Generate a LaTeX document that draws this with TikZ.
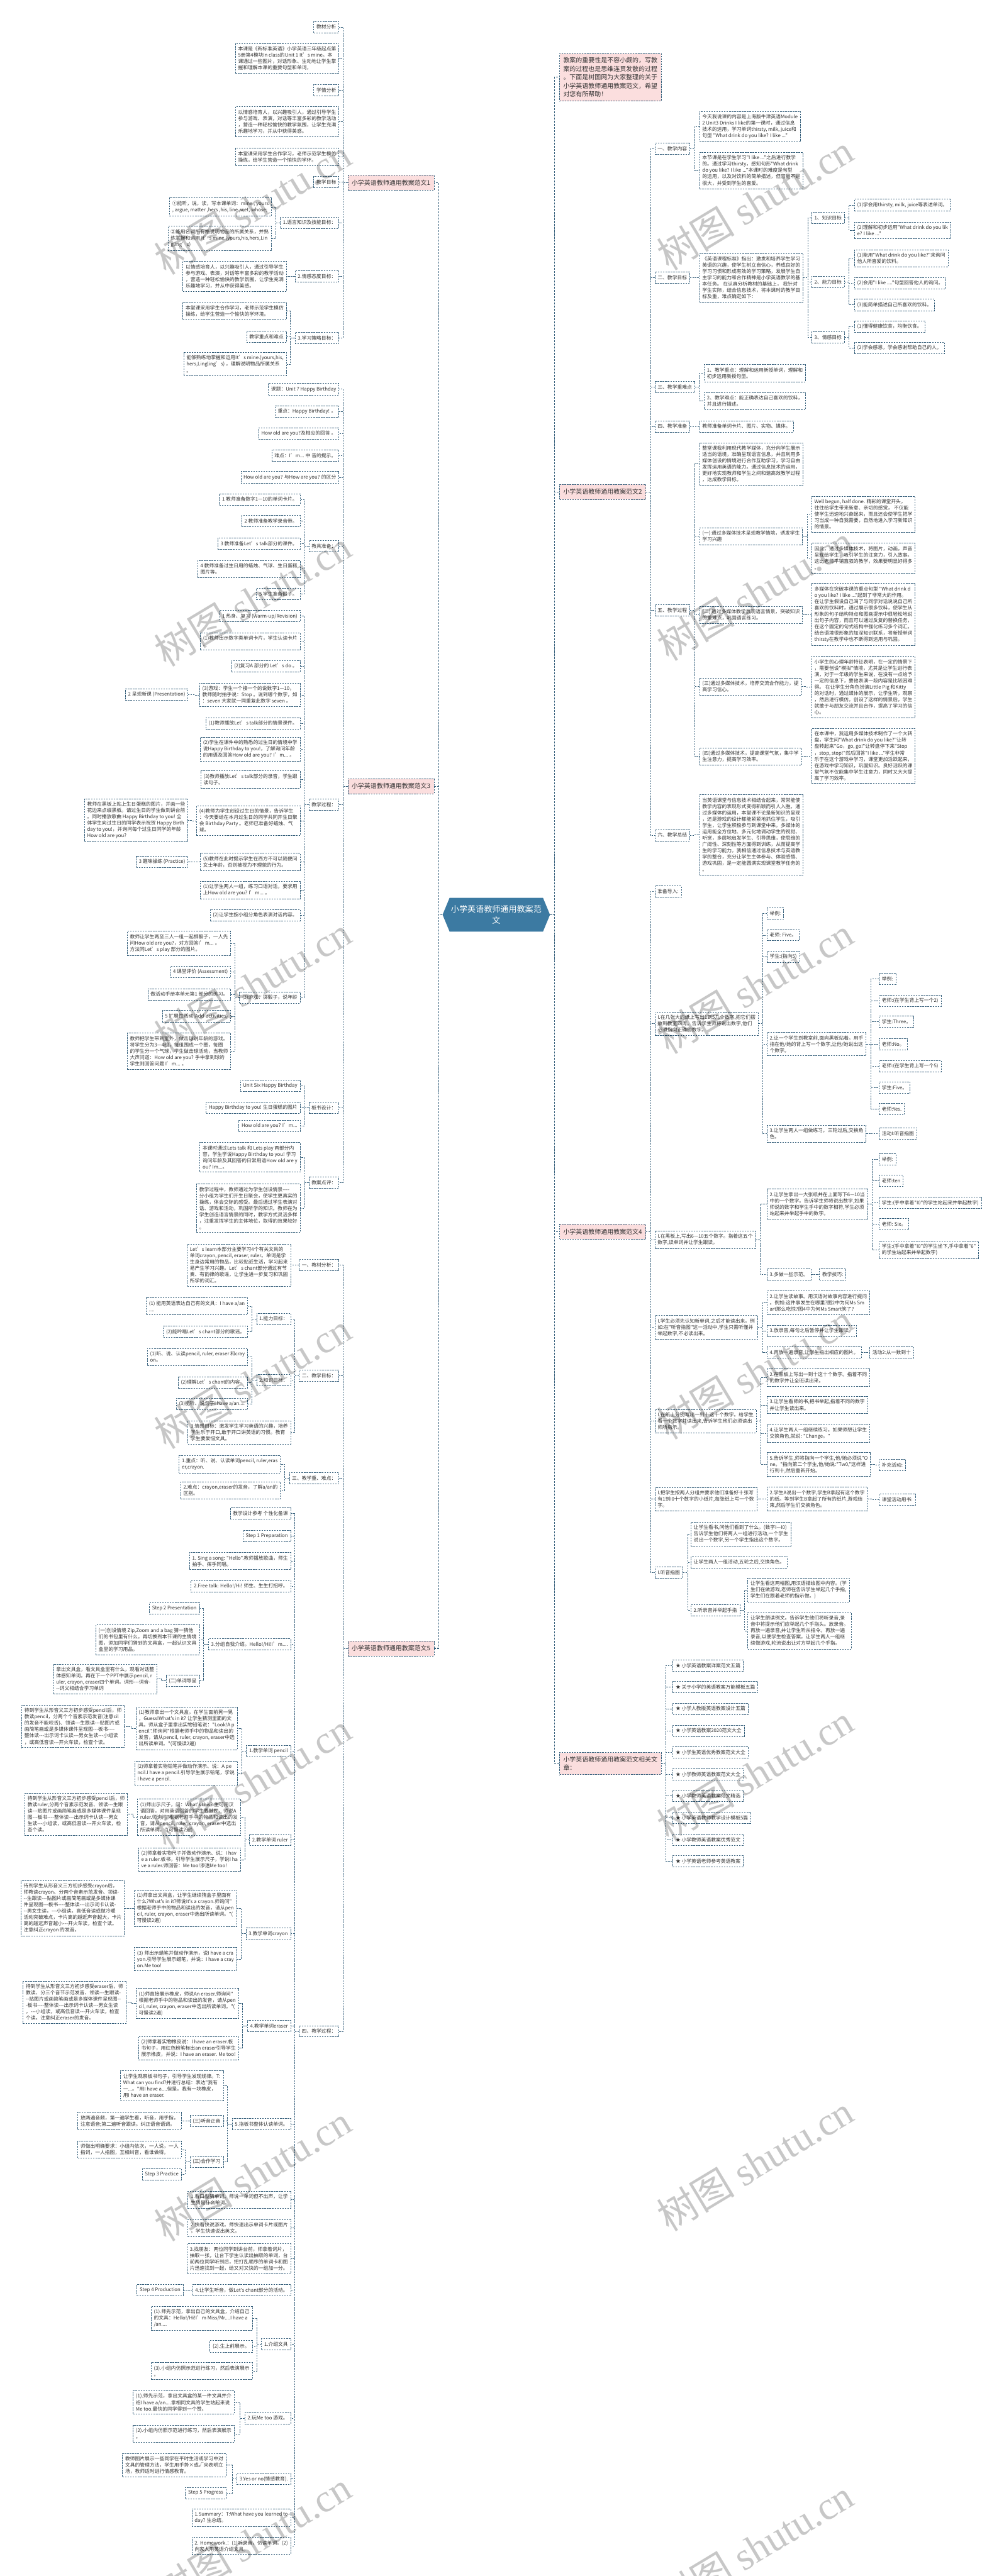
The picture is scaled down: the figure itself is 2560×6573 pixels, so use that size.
\documentclass[tikz,border=0pt]{standalone}
\usepackage{fontspec}
\newfontfamily\cjk{Noto Sans CJK SC}
\newfontfamily\wmlat{Liberation Serif}
\usetikzlibrary{shapes.symbols}
\definecolor{bordc}{RGB}{52,94,122}
\definecolor{txtc}{RGB}{51,51,51}
\definecolor{pinkc}{RGB}{251,222,222}
\definecolor{rootc}{RGB}{60,122,162}
\newcommand\BoxL[4]{\node[box,anchor=east] (#1) at (#2,#3) {#4};}
\newcommand\BoxR[4]{\node[box,anchor=west] (#1) at (#2,#3) {#4};}
\newcommand\ConL[2]{\draw[conn] (#1.west) -- ++(-11.5,0) |- (#2.east);}
\newcommand\ConR[2]{\draw[conn] (#1.east) -- ++(11.5,0) |- (#2.west);}
\begin{document}
\begin{tikzpicture}[x=1pt,y=-1pt,
 box/.style={draw=bordc,dash pattern=on 4pt off 2.5pt,line width=1.1pt,fill=white,inner xsep=7pt,inner ysep=8pt,minimum height=28.8pt,align=left,text=txtc,font=\cjk\fontsize{12.5}{16.1}\selectfont},
 lone/.style={box,fill=pinkc,inner xsep=9.5pt,inner ysep=10pt,minimum height=38pt,font=\cjk\fontsize{16}{21.6}\selectfont},
 conn/.style={draw=bordc,dash pattern=on 4pt off 2.5pt,line width=1.1pt},
 trunk/.style={draw=bordc,dash pattern=on 5pt off 3pt,line width=1.8pt},
 wm/.style={rotate=31,text=black,text opacity=0.22,font=\cjk\fontsize{100}{100}\selectfont}]
\fill[white] (0,0) rectangle (2560,6573);
\path[use as bounding box] (0,0) rectangle (2560,6573);
% root
\node[signal,signal to=east and west,signal pointer angle=135,fill=rootc,draw=none,text=white,minimum width=274pt,minimum height=86pt,inner xsep=2pt,align=center,font=\cjk\fontsize{21}{28}\selectfont] (root) at (1266,2334) {小学英语教师通用教案范\\文};
% level 1
\node[lone,anchor=east] (A) at (1108,466) {小学英语教师通用教案范文1};
\node[lone,anchor=east] (B) at (1108,2006) {小学英语教师通用教案范文3};
\node[lone,anchor=east] (C) at (1108,4206) {小学英语教师通用教案范文5};
\node[lone,anchor=west] (R0) at (1427,197) {教案的重要性是不容小觑的，写教\\案的过程也是思维连贯发散的过程\\。下面是树图网为大家整理的关于\\小学英语教师通用教案范文，希望\\对您有所帮助！};
\node[lone,anchor=west] (D) at (1427,1255) {小学英语教师通用教案范文2};
\node[lone,anchor=west] (E) at (1427,3143) {小学英语教师通用教案范文4};
\node[lone,anchor=west] (F) at (1427,4500) {小学英语教师通用教案范文相关文\\章：};
\foreach \nn in {A,B,C} {\draw[trunk] (root.west) -- ++(-10,0) |- (\nn.east);}
\foreach \nn in {R0,D,E,F} {\draw[trunk] (root.east) -- ++(11,0) |- (\nn.west);}
% ===== A : 范文1
\BoxL{a1}{865}{69}{教材分析}
\BoxL{a2}{865}{149}{本课是《新标准英语》小学英语三年级起点第\\5册第4模块In class的Unit 1 It’s mine。本\\课通过一些图片，对话形象、生动地让学生掌\\握和理解本课的重要句型和单词，}
\BoxL{a3}{865}{230}{学情分析}
\BoxL{a4}{865}{310}{以情感培育人，以兴趣吸引人，通过引导学生\\参与游戏、表演，对话等丰富多彩的教学活动\\，营造一种轻松愉快的教学氛围，让学生充满\\乐趣地学习，并从中获得美感。}
\BoxL{a5}{865}{400}{本堂课采用学生合作学习，老师示范学生模仿\\操练，给学生营造一个愉快的学环。}
\BoxL{a6}{865}{465}{教学目标}
\BoxL{a7}{865}{568}{1.语言知识及技能目标：}
\BoxL{a8}{865}{705}{2.情感态度目标：}
\BoxL{a9}{865}{862}{3.学习策略目标：}
\BoxL{a7a}{693}{528}{①能听，说，读，写本课单词：mine , yours\\, argue, matter ,hers ,his, line ,wet, whose;}
\BoxL{a7b}{693}{608}{②能用名词所有格说明物品的所属关系，并熟\\练掌握和运用 It’s mine.(yours,his,hers,Lin\\gling’s)}
\BoxL{a8a}{731}{705}{以情感培育人，以兴趣吸引人，通过引导学生\\参与游戏、表演，对话等丰富多彩的教学活动\\，营造一种轻松愉快的教学氛围，让学生充满\\乐趣地学习，并从中获得美感。}
\BoxL{a9a}{731}{794}{本堂课采用学生合作学习，老师示范学生模仿\\操练，给学生营造一个愉快的学环境。}
\BoxL{a9b}{731}{859}{教学重点和难点}
\BoxL{a9c}{731}{929}{能够熟练地掌握和运用It’s mine.(yours,his,\\hers,Lingling’s) ，理解说明物品所属关系\\。}
\foreach \cc in {a1,a2,a3,a4,a5,a6,a7,a8,a9} {\ConL{A}{\cc}}
\ConL{a7}{a7a} \ConL{a7}{a7b} \ConL{a8}{a8a}
\ConL{a9}{a9a} \ConL{a9}{a9b} \ConL{a9}{a9c}
% ===== B : 范文3
\BoxL{b1}{865}{993}{课题：Unit 7 Happy Birthday}
\BoxL{b2}{865}{1050}{重点：Happy Birthday! 。}
\BoxL{b3}{865}{1106}{How old are you?及相应的回答 。}
\BoxL{b4}{865}{1162}{难点：I’m... 中 音的提示。}
\BoxL{b5}{865}{1218}{How old are you? 与How are you? 的区分}
\BoxL{b6}{865}{1394}{教具准备：}
\BoxL{b7}{865}{2053}{教学过程：}
\BoxL{b8}{865}{2826}{板书设计：}
\BoxL{b9}{865}{3017}{教案点评：}
\foreach \cc in {b1,b2,b3,b4,b5,b6,b7,b8,b9} {\ConL{B}{\cc}}
\BoxL{b6a}{766}{1274}{1 教师准备数字1—10的单词卡片。}
\BoxL{b6b}{766}{1330}{2 教师准备教学录音带。}
\BoxL{b6c}{766}{1387}{3 教师准备Let’s talk部分的课件。}
\BoxL{b6d}{766}{1452}{4 教师准备过生日用的蜡烛、气球、生日蛋糕\\图片等。}
\BoxL{b6e}{766}{1515}{5 学生准备骰子。}
\foreach \cc in {b6a,b6b,b6c,b6d,b6e} {\ConL{b6}{\cc}}
\BoxL{b7a}{766}{1572}{1 热身、复习 (Warm-up/Revision)}
\BoxL{b7b}{766}{1636}{(1)教师出示数字类单词卡片，学生认读卡片\\。}
\BoxL{b7c}{766}{1700}{(2)复习A 部分的 Let’s do 。}
\BoxL{b7d}{766}{1773}{(3)游戏：学生一个接一个的说数字1—10，\\教师随时拍手说：Stop 。说到哪个数字，如\\：seven 大家就一同重复此数字 seven 。}
\BoxL{b7e}{766}{1846}{(1)教师播放Let’s talk部分的情景课件。}
\BoxL{b7f}{766}{1912}{(2)学生在课件中的熟悉的过生日的情境中学\\说Happy Birthday to you!，了解询问年龄\\的用语及回答How old are you? I’m... 。}
\BoxL{b7g}{766}{1989}{(3)教师播放Let’s talk部分的录音，学生跟\\读句子。}
\BoxL{b7h}{766}{2094}{(4)教师为学生创设过生日的情景，告诉学生\\：今天要给在本月过生日的同学共同开生日聚\\会 Birthday Party 。老师已准备好蜡烛、气\\球。}
\BoxL{b7i}{766}{2199}{(5)教师在此时提示学生在西方不可以随便问\\女士年龄，否则被视为不理貌的行为。}
\BoxL{b7j}{766}{2271}{(1)让学生两人一组，练习口语对话，要求用\\上How old are you? I’m... 。}
\BoxL{b7k}{766}{2335}{(2)让学生按小组分角色表演对话内容。}
\BoxL{b7l}{766}{2545}{(3)游戏：掷骰子，说年龄}
\foreach \cc in {b7a,b7b,b7c,b7d,b7e,b7f,b7g,b7h,b7i,b7j,b7k,b7l} {\ConL{b7}{\cc}}
\BoxL{b7d1}{480}{1772}{2 呈现新课 (Presentation)}
\BoxL{b7h1}{480}{2093}{教师在黑板上贴上生日蛋糕的图片，并画一些\\花边来点缀黑板。请过生日的学生做到讲台前\\。同时播放歌曲 Happy Birthday to you! 全\\体学生向过生日的同学表示祝贺 Happy Birth\\day to you!，并询问每个过生日同学的年龄\\ How old are you?}
\BoxL{b7i1}{480}{2199}{3 趣味操练 (Practice)}
\ConL{b7d}{b7d1} \ConL{b7h}{b7h1} \ConL{b7i}{b7i1}
\BoxL{b7l1}{589}{2407}{教师让学生两至三人一组一起掷骰子，一人先\\问How old are you?，对方回答I’m... 。\\方法同Let’s play 部分的图片。}
\BoxL{b7l2}{589}{2480}{4 课堂评价 (Assessment)}
\BoxL{b7l3}{589}{2537}{做活动手册本单元第1 部分的练习。}
\BoxL{b7l4}{589}{2593}{5 扩展性活动(Add-activities)}
\BoxL{b7l5}{589}{2682}{教师把学生带到室外，做击球说年龄的游戏。\\将学生分为3—4组，每组围成一个圈，每圈\\的学生分一个气球，学生做击球活动，当教师\\大声问道：How old are you? 手中拿到球的\\学生则回答问题 I’m... 。}
\foreach \cc in {b7l1,b7l2,b7l3,b7l4,b7l5} {\ConL{b7l}{\cc}}
\BoxL{b8a}{766}{2770}{Unit Six Happy Birthday}
\BoxL{b8b}{766}{2826}{Happy Birthday to you! 生日蛋糕的图片}
\BoxL{b8c}{766}{2873}{How old are you? I’m...}
\foreach \cc in {b8a,b8b,b8c} {\ConL{b8}{\cc}}
\BoxL{b9a}{766}{2953}{本课时通过Lets talk 和 Lets play 两部分内\\容，学生学说Happy Birthday to you! 学习\\询问年龄及其回答的日常用语How old are y\\ou? Im...。}
\BoxL{b9b}{766}{3083}{教学过程中，教师通过为学生创设情景----\\分小组为学生们开生日聚会，使学生更真实的\\操练，体会交际的感受。最后通过学生表演对\\话、游戏和活动，巩固所学的知识。教师在为\\学生创造语言情景的同时，教学方式灵活多样\\，注重发挥学生的主体地位，取得的效果较好\\。}
\ConL{b9}{b9a} \ConL{b9}{b9b}
% ===== C : 范文5
\BoxL{c1}{865}{3228}{一、教材分析：}
\BoxL{c2}{865}{3510}{二、教学目标：}
\BoxL{c3}{865}{3772}{三、教学重、难点：}
\BoxL{c4}{865}{5183}{四、教学过程：}
\foreach \cc in {c1,c2,c3,c4} {\ConL{C}{\cc}}
\BoxL{c1a}{742}{3228}{Let’s learn本部分主要学习4个有关文具的\\单词crayon, pencil, eraser, ruler。单词是学\\生身边常用的物品，比较贴近生活，学习起来\\易产生学习兴趣。Let’s chant部分通过有节\\奏、有韵律的歌谣，让学生进一步复习和巩固\\所学的词汇。}
\ConL{c1}{c1a}
\BoxL{c2a}{742}{3365}{1.能力目标：}
\BoxL{c2b}{742}{3522}{2.知识目标：}
\BoxL{c2c}{742}{3655}{3.情感目标：激发学生学习英语的兴趣，培养\\学生乐于开口,敢于开口讲英语的习惯。教育\\学生要爱惜文具。}
\foreach \cc in {c2a,c2b,c2c} {\ConL{c2}{\cc}}
\BoxL{c2a1}{632}{3333}{(1) 能用英语表达自己有的文具：I have a/an\\....}
\BoxL{c2a2}{632}{3398}{(2)能吟唱Let’s chant部分的歌谣。}
\ConL{c2a}{c2a1} \ConL{c2a}{c2a2}
\BoxL{c2b1}{632}{3462}{(1)听、说、认读pencil, ruler, eraser 和cray\\on。}
\BoxL{c2b2}{632}{3527}{(2)理解Let’s chant的内容。}
\BoxL{c2b3}{632}{3582}{(3)能听、说句子I have a/an....}
\foreach \cc in {c2b1,c2b2,c2b3} {\ConL{c2b}{\cc}}
\BoxL{c3a}{716}{3736}{1.重点：听、说、认读单词pencil, ruler,eras\\er,crayon.}
\BoxL{c3b}{716}{3803}{2.难点：crayon,eraser的发音，了解a/an的\\区别。}
\ConL{c3}{c3a} \ConL{c3}{c3b}
\BoxL{c4a}{742}{3862}{教学设计参考 个性化备课}
\BoxL{c4b}{742}{3919}{Step 1 Preparation}
\BoxL{c4c}{742}{3983}{1. Sing a song: "Hello".教师播放歌曲，师生\\拍手、挥手同唱。}
\BoxL{c4d}{742}{4047}{2.Free talk: Hello!/Hi! 师生、生生打招呼。}
\BoxL{c4e}{742}{4196}{3.分组自我介绍。Hello!/Hi!I’m....}
\BoxL{c4f}{742}{4468}{1.教学单词 pencil}
\BoxL{c4g}{742}{4694}{2.教学单词 ruler}
\BoxL{c4h}{742}{4934}{3.教学单词crayon}
\BoxL{c4i}{742}{5169}{4.教学单词eraser}
\BoxL{c4j}{742}{5420}{5.指板书整体认读单词。}
\BoxL{c4k}{742}{5613}{1.看口型猜单词。师说一单词但不出声，让学\\生猜是什么单词。}
\BoxL{c4l}{742}{5685}{2.快看快说游戏。师快速出示单词卡片或图片\\，学生快速说出英文。}
\BoxL{c4m}{742}{5763}{3.找朋友：两位同学到讲台前，师拿着词片，\\抽取一张，让台下学生认读出抽取的单词，台\\前两位同学听到后，把打乱顺序的单词卡和图\\片迅速找到一起，给又对又快的一组加一分。}
\BoxL{c4n}{742}{5843}{4.让学生听音，做Let's chant部分的活动。}
\BoxL{c4o}{742}{5982}{1.介绍文具}
\BoxL{c4p}{742}{6170}{2.玩Me too 游戏。}
\BoxL{c4q}{742}{6325}{3.Yes or no(情感教育).}
\BoxL{c4r}{742}{6424}{1.Summary：T:What have you learned to\\day? 生总结。}
\BoxL{c4s}{742}{6496}{2. Homework.：(1)听录音，仿读单词。(2)\\向家人用英语介绍文具。}
\foreach \cc in {c4a,c4b,c4c,c4d,c4e,c4f,c4g,c4h,c4i,c4j,c4k,c4l,c4m,c4n,c4o,c4p,c4q,c4r,c4s} {\ConL{c4}{\cc}}
\BoxL{c4e1}{509}{4104}{Step 2 Presentation}
\BoxL{c4e2}{509}{4184}{(一)创设情境 Zip,Zoom and a bag 猜一猜他\\们的书包里有什么。再切换到本节课的主情境\\图，添加同学们猜到的文具盒，一起认识文具\\盒里的学习用品。}
\BoxL{c4e3}{509}{4289}{(二)单词导呈}
\foreach \cc in {c4e1,c4e2,c4e3} {\ConL{c4e}{\cc}}
\BoxL{c4e3a}{401}{4284}{拿出文具盒，看文具盒里有什么，观看对话整\\体感知单词。再在下一个PPT中展示pencil, r\\uler, crayon, eraser四个单词。词形---词音-\\--词义相结合学习单词}
\ConL{c4e3}{c4e3a}
\BoxL{c4f1}{606}{4410}{(1)教师拿出一个文具盒，在学生面前晃一晃\\，Guess!What's in it? 让学生猜测里面的文\\具。师从盒子里拿出实物铅笔说："Look!A p\\encil".师询问"根据老师手中的物品和读出的\\发音，请从pencil, ruler, crayon, eraser中选\\出所读单词。"(可慢读2遍)}
\BoxL{c4f2}{606}{4524}{(2)师拿着实物铅笔并做动作演示、说：A pe\\ncil.I have a pencil.引导学生展示铅笔，学说\\I have a pencil.}
\ConL{c4f}{c4f1} \ConL{c4f}{c4f2}
\BoxL{c4f1a}{318}{4405}{待到学生从形音义三方初步感受pencil后，师\\教读pencil，分两个个音素示范发音(注意cil\\的发音不能咬舌)、领读---生跟读---贴图片或\\画简笔画或是多媒体课件呈现图---板书----\\整体读---出示词卡认读---男女生读---小组读\\，或高低音读---开火车读，检查个读。}
\ConL{c4f1}{c4f1a}
\BoxL{c4g1}{614}{4637}{(1)师出示尺子，问：What's this? 生可用汉\\语回答，对用英语回答的学生要鼓励。师说A\\ruler.师询问"根据老师手中的物品和读出的发\\音，请从pencil, ruler, crayon, eraser中选出\\所读单词。"(可慢读2遍)}
\BoxL{c4g2}{614}{4745}{(2)师拿着实物尺子并做动作演示、说：I hav\\e a ruler.板书，引导学生展示尺子，学说I ha\\ve a ruler.师回答：Me too!渗透Me too!}
\ConL{c4g}{c4g1} \ConL{c4g}{c4g2}
\BoxL{c4g1a}{326}{4629}{待到学生从形音义三方初步感受pencil后，师\\教读ruler,分两个音素示范发音、领读---生跟\\读---贴图片或画简笔画或是多媒体课件呈现\\图---板书----整体读---出示词卡认读---男女\\生读---小组读，或高低音读---开火车读，检\\查个读。}
\ConL{c4g1}{c4g1a}
\BoxL{c4h1}{604}{4869}{(1)师拿出文具盒，让学生继续猜盒子里面有\\什么?What's in it?师说It's a crayon.师询问"\\根据老师手中的物品和读出的发音，请从pen\\cil, ruler, crayon, eraser中选出所读单词。"(\\可慢读2遍)}
\BoxL{c4h2}{604}{4999}{(3) 师出示蜡笔并做动作演示，说I have a cra\\yon.引导学生展示蜡笔，并说：I have a cray\\on.Me too!}
\ConL{c4h}{c4h1} \ConL{c4h}{c4h2}
\BoxL{c4h1a}{318}{4869}{待到学生从形音义三方初步感受crayon后，\\师教读crayon、分两个音素示范发音、领读-\\--生跟读---贴图片或画简笔画或是多媒体课\\件呈现图---板书----整体读---出示词卡认读-\\--男女生读，---小组读。高低音读或做冷暖\\活动突破难点，卡片离的越近声音越大，卡片\\离的越远声音越小---开火车读，检查个读。\\注意纠正crayon 的发音。}
\ConL{c4h1}{c4h1a}
\BoxL{c4i1}{609}{5112}{(1)师直接展示橡皮，师说An eraser.师询问"\\根据老师手中的物品和读出的发音，请从pen\\cil, ruler, crayon, eraser中选出所读单词。"(\\可慢读2遍)}
\BoxL{c4i2}{609}{5226}{(2)师拿着实物橡皮说：I have an eraser.板\\书句子，用红色粉笔标出an eraser引导学生\\展示橡皮，并说：I have an eraser. Me too!}
\ConL{c4i}{c4i1} \ConL{c4i}{c4i2}
\BoxL{c4i1a}{322}{5109}{待到学生从形音义三方初步感受eraser后，师\\教读、分三个音节示范发音、领读---生跟读-\\--贴图片或画简笔画或是多媒体课件呈现图--\\-板书----整体读---出示词卡认读---男女生读\\，---小组读，或高低音读---开火车读，检查\\个读。注意纠正eraser的发音。}
\ConL{c4i1}{c4i1a}
\BoxL{c4j1}{570}{5322}{让学生观察板书句子，引导学生发现规律。T:\\What can you find?并进行总结：表达"我有\\一...。"用I have a....但是，我有一块橡皮，\\用I have an eraser.}
\BoxL{c4j2}{570}{5412}{(三)听音正音}
\BoxL{c4j3}{570}{5516}{(三)合作学习}
\foreach \cc in {c4j1,c4j2,c4j3} {\ConL{c4j}{\cc}}
\BoxL{c4j2a}{463}{5412}{放两遍音频，第一遍学生看，听音，用手指，\\注意语音;第二遍听音跟读。纠正语音语调。}
\ConL{c4j2}{c4j2a}
\BoxL{c4j3a}{463}{5485}{师做出明确要求：小组内依次，一人说，一人\\指词，一人指图，互相纠音，看谁做得。}
\BoxL{c4j3b}{463}{5548}{Step 3 Practice}
\ConL{c4j3}{c4j3a} \ConL{c4j3}{c4j3b}
\BoxL{c4n1}{468}{5843}{Step 4 Production}
\ConL{c4n}{c4n1}
\BoxL{c4o1}{644}{5915}{(1).师先示范，拿出自己的文具盒，介绍自己\\的文具：Hello!/Hi!I’m Miss/Mr....I have a\\/an....}
\BoxL{c4o2}{644}{5987}{(2).生上前展示。}
\BoxL{c4o3}{644}{6050}{(3).小组内仿照示范进行练习，然后表演展示\\。}
\foreach \cc in {c4o1,c4o2,c4o3} {\ConL{c4o}{\cc}}
\BoxL{c4p1}{598}{6130}{(1).师先示范，拿出文具盒的某一件文具并介\\绍I have a/an....拿相同文具的学生站起来说\\Me too.最快的同学得到一个赞。}
\BoxL{c4p2}{598}{6210}{(2).小组内仿照示范进行练习，然后表演展示\\。}
\ConL{c4p}{c4p1} \ConL{c4p}{c4p2}
\BoxL{c4q1}{577}{6290}{教师图片展示一些同学在平时生活或学习中对\\文具的管理方法，学生用手势×或√来表明立\\场，教师适时进行情感教育。}
\BoxL{c4q2}{577}{6361}{Step 5 Progress}
\ConL{c4q}{c4q1} \ConL{c4q}{c4q2}
% ===== D : 范文2
\BoxR{d1}{1670}{380}{一、教学内容}
\BoxR{d2}{1670}{708}{二、教学目标}
\BoxR{d3}{1670}{988}{三、教学重难点}
\BoxR{d4}{1670}{1088}{四、教学准备}
\BoxR{d5}{1670}{1557}{五、教学过程}
\BoxR{d6}{1670}{2131}{六、教学总结}
\foreach \cc in {d1,d2,d3,d4,d5,d6} {\ConR{D}{\cc}}
\BoxR{d1a}{1784}{323}{今天我说课的内容是上海版牛津英语Module\\2 Unit3 Drinks I like的第一课时，通过信息\\技术的运用，学习单词thirsty, milk, juice和\\句型 "What drink do you like? I like ..."}
\BoxR{d1b}{1784}{435}{本节课是在学生学习"I like ..."之后进行教学\\的。通过学习thirsty，感知句形"What drink\\ do you like? I like ..."本课时的难度是句型\\的运用，以及对饮料的简单描述，但容量不是\\很大，并受到学生的喜爱。}
\ConR{d1}{d1a} \ConR{d1}{d1b}
\BoxR{d2a}{1784}{709}{《英语课程标准》指出：激发和培养学生学习\\英语的兴趣，使学生树立自信心，养成良好的\\学习习惯和形成有效的学习策略，发展学生自\\主学习的能力和合作精神是小学英语教学的基\\本任务。 在认真分析教材的基础上， 我针对\\学生实际，结合信息技术，将本课时的教学目\\标及重，难点确定如下：}
\ConR{d2}{d2a}
\BoxR{d2a1}{2070}{556}{1、知识目标}
\BoxR{d2a2}{2070}{719}{2、能力目标}
\BoxR{d2a3}{2070}{861}{3、情感目标}
\foreach \cc in {d2a1,d2a2,d2a3} {\ConR{d2a}{\cc}}
\BoxR{d2a1a}{2179}{523}{(1)学会用thirsty, milk, juice等表述单词。}
\BoxR{d2a1b}{2179}{588}{(2)理解和初步运用"What drink do you lik\\e? I like ..."}
\ConR{d2a1}{d2a1a} \ConR{d2a1}{d2a1b}
\BoxR{d2a2a}{2179}{659}{(1)能用"What drink do you like?"来询问\\他人所喜爱的饮料。}
\BoxR{d2a2b}{2179}{722}{(2)会用"I like ...."句型回答他人的询问。}
\BoxR{d2a2c}{2179}{778}{(3)能简单描述自己所喜欢的饮料。}
\foreach \cc in {d2a2a,d2a2b,d2a2c} {\ConR{d2a2}{\cc}}
\BoxR{d2a3a}{2179}{833}{(1)懂得健康饮食，均衡饮食。}
\BoxR{d2a3b}{2179}{888}{(2)学会感恩，学会感谢帮助自己的人。}
\ConR{d2a3}{d2a3a} \ConR{d2a3}{d2a3b}
\BoxR{d3a}{1796}{952}{1、教学重点：理解和运用新授单词，理解和\\初步运用新授句型。}
\BoxR{d3b}{1796}{1023}{2、教学难点：能正确表达自己喜欢的饮料，\\并且进行描述。}
\ConR{d3}{d3a} \ConR{d3}{d3b}
\BoxR{d4a}{1784}{1088}{教师准备单词卡片、图片、实物、媒体。}
\ConR{d4}{d4a}
\BoxR{d5a}{1784}{1184}{整堂课我利用现代教学媒体，充分向学生展示\\适当的语境，准确呈现语言信息，并且利用多\\媒体创设的情境进行合作互助学习，学习自由\\发挥运用英语的能力。通过信息技术的运用，\\更好地实现教师和学生之间和谐高效教学过程\\，达成教学目标。}
\BoxR{d5b}{1784}{1368}{(一) 通过多媒体技术呈现教学情境，诱发学生\\学习兴趣}
\BoxR{d5c}{1784}{1569}{(二) 通过多媒体教学展现语言情景，突破知识\\的重难点，巩固语言练习。}
\BoxR{d5d}{1784}{1752}{(三)通过多媒体技术，培养交流合作能力，提\\高学习信心。}
\BoxR{d5e}{1784}{1930}{(四)通过多媒体技术，提高课堂气氛，集中学\\生注意力，提高学习效率。}
\foreach \cc in {d5a,d5b,d5c,d5d,d5e} {\ConR{d5}{\cc}}
\BoxR{d5b1}{2070}{1312}{Well begun, half done. 精彩的课堂开头，\\往往给学生带来新意、亲切的感觉， 不仅能\\使学生迅速地兴奋起来，而且还会使学生把学\\习当成一种自我需要，自然地进入学习新知识\\的情景。}
\BoxR{d5b2}{2070}{1424}{因此，通过多媒体技术，将图片，动画，声音\\呈现给学生，吸引学生的注意力，引入故事。\\这比老师平铺直叙的教学，效果要明显好得多\\。}
\ConR{d5b}{d5b1} \ConR{d5b}{d5b2}
\BoxR{d5c1}{2070}{1568}{多媒体在突破本课的重点句型 "What drink d\\o you like? I like ..."起到了非常大的作用。\\在让学生假设自己渴了与同学对话说说自己所\\喜欢的饮料时，通过展示很多饮料，使学生从\\形象的句子结构特点和图画提示中很轻松地说\\出句子内容，而且可以通过反复的替换任务，\\在这个固定的句式结构中强化练习多个词汇。\\结合语境很形象的加深知识联系，将新授单词\\thirsty在教学中也不断得到运用与巩固。}
\ConR{d5c}{d5c1}
\BoxR{d5d1}{2070}{1753}{小学生的心理年龄特征表明，在一定的情景下\\，需要创设"模拟"情境，尤其是让学生进行表\\演，对于一年级的学生来说，在没有一点给予\\一定的信息下，要他表演一段内容是比较困难\\得。 在让学生分角色扮演Little Pig 和Kitty\\的对话时，通过媒体的展示，让学生听，观察\\，然后进行模仿。创设了这样的情景后，学生\\就敢于与朋友交流并且合作，提高了学习的信\\心。}
\ConR{d5d}{d5d1}
\BoxR{d5e1}{2070}{1929}{在本课中，我运用多媒体技术制作了一个大转\\盘，学生问"What drink do you like?"让转\\盘转起来"Go，go, go!"让转盘停下来"Stop\\，stop, stop!"然后回答"I like ..."学生非常\\乐于在这个游戏中学习，课堂更加活跃起来，\\在游戏中学习知识，巩固知识。良好活跃的课\\堂气氛不仅能集中学生注意力，同时又大大提\\高了学习效率。}
\ConR{d5e}{d5e1}
\BoxR{d6a}{1784}{2130}{当英语课堂与信息技术相结合起来，常常能使\\教学内容的表现形式变得新颖而引人入胜。通\\过多媒体的运用，本堂课不论是新知识的呈现\\，还是游戏的设计都能紧紧地抓住学生，吸引\\学生，让学生积极参与到课堂中来。多媒体的\\运用能全方位地、多元化地调动学生的视觉、\\听觉，多层地启发学生、引导思维，使思维的\\广阔性、深刻性等方面得到训练，从而提高学\\生的学习能力。我相信通过信息技术与英语教\\学的整合，充分让学生主体参与、体验感悟、\\游戏巩固，是一定能圆满实现课堂教学任务的\\。}
\ConR{d6}{d6a}
% ===== E : 范文4
\BoxR{e1}{1670}{2275}{准备导入:}
\BoxR{e2}{1670}{2612}{I.在几张大的纸上写出1到5几个数字,把它们摆\\放到教室四周。告诉学生师将说出数字,他们\\必须指向正确的数字。}
\BoxR{e3}{1670}{3163}{I.在黑板上,写出6—10五个数字。指着这五个\\数字,读单词并让学生跟读。}
\BoxR{e4}{1670}{3387}{I.学生必须先认知新单词,之后才能读出来。例\\如:在"听音指图"这一活动中,学生只需听懂并\\举起数字,不必读出来。}
\BoxR{e5}{1670}{3626}{I.在纸上分别写出一到十这十个数字。给学生\\看一个数字并读出来,告诉学生他们必须读出\\师所指示。}
\BoxR{e6}{1670}{3825}{I.把学生按两人分组并要求他们准备好十张写\\有1到I0十个数字的小纸片,每张纸上写一个数\\字。}
\BoxR{e7}{1670}{4012}{I.听音指图}
\foreach \cc in {e1,e2,e3,e4,e5,e6,e7} {\ConR{E}{\cc}}
\BoxR{e2a}{1956}{2331}{举例:}
\BoxR{e2b}{1956}{2386}{老师: Five。}
\BoxR{e2c}{1956}{2441}{学生:(指向5)}
\BoxR{e2d}{1956}{2664}{2.让一个学生到教室前,面向黑板站着。用手\\指在他/她的背上写一个数字,让他/她说出这\\个数字。}
\BoxR{e2e}{1956}{2893}{3.让学生两人一组做练习。三轮过后,交换角\\色。}
\foreach \cc in {e2a,e2b,e2c,e2d,e2e} {\ConR{e2}{\cc}}
\BoxR{e2d1}{2242}{2497}{举例:}
\BoxR{e2d2}{2242}{2553}{老师:(在学生背上写一个2)}
\BoxR{e2d3}{2242}{2607}{学生:Three。}
\BoxR{e2d4}{2242}{2664}{老师:No。}
\BoxR{e2d5}{2242}{2720}{老师:(在学生背上写一个5)}
\BoxR{e2d6}{2242}{2775}{学生:Five。}
\BoxR{e2d7}{2242}{2830}{老师:Yes.}
\foreach \cc in {e2d1,e2d2,e2d3,e2d4,e2d5,e2d6,e2d7} {\ConR{e2d}{\cc}}
\BoxR{e2e1}{2242}{2892}{活动I:听音指图}
\ConR{e2e}{e2e1}
\BoxR{e3a}{1956}{3072}{2.让学生拿出一大张纸并在上面写下6—10当\\中的一个数字。告诉学生师将说出数字,如果\\师说的数字和学生手中的数字相符,学生必须\\站起来并举起手中的数字。}
\BoxR{e3b}{1956}{3252}{3.多做一些示范。}
\ConR{e3}{e3a} \ConR{e3}{e3b}
\BoxR{e3a1}{2242}{2958}{举例:}
\BoxR{e3a2}{2242}{3013}{老师:ten}
\BoxR{e3a3}{2242}{3069}{学生:(手中拿着"I0"的学生站起来并举起数字)}
\BoxR{e3a4}{2242}{3124}{老师: Six。}
\BoxR{e3a5}{2242}{3189}{学生:(手中拿着"I0"的学生坐下,手中拿着"6"\\的学生站起来并举起数字)}
\foreach \cc in {e3a1,e3a2,e3a3,e3a4,e3a5} {\ConR{e3a}{\cc}}
\BoxR{e3b1}{2090}{3252}{教学技巧:}
\ConR{e3b}{e3b1}
\BoxR{e4a}{1956}{3324}{2.让学生读故事。用汉语对故事内容进行提问\\。例如:这件事发生在哪里?图2中为何Ms Sm\\art那么吃惊?图4中为何Ms Smart笑了?}
\BoxR{e4b}{1956}{3396}{3.放录音,每句之后暂停并让学生跟读。}
\BoxR{e4c}{1956}{3451}{4.再放一遍录音,让学生指出相应的图片。}
\foreach \cc in {e4a,e4b,e4c} {\ConR{e4}{\cc}}
\BoxR{e4c1}{2218}{3451}{活动2:从一数到十}
\ConR{e4c}{e4c1}
\BoxR{e5a}{1956}{3515}{2.在黑板上写出一到十这十个数字。指着不同\\的数字并让全班读出来。}
\BoxR{e5b}{1956}{3585}{3.让学生看师的书,把书举起,指着不同的数字\\并让学生读出来。}
\BoxR{e5c}{1956}{3657}{4.让学生两人一组继续练习。如果师想让学生\\交换角色,就说: "Change。"}
\BoxR{e5d}{1956}{3737}{5.告诉学生,师将指向一个学生,他/她必须说"O\\ne。"指向第二个学生,他/她说:"Tw0,"这样进\\行到十,然后重新开始。}
\foreach \cc in {e5a,e5b,e5c,e5d} {\ConR{e5}{\cc}}
\BoxR{e5d1}{2242}{3738}{补充活动:}
\ConR{e5d}{e5d1}
\BoxR{e6a}{1956}{3825}{2.学生A说出一个数字,学生B拿起有这个数字\\的纸。等到学生B拿起了所有的纸片,游戏结\\束,然后学生们交换角色。}
\ConR{e6}{e6a}
\BoxR{e6a1}{2242}{3826}{课堂活动用书:}
\ConR{e6a}{e6a1}
\BoxR{e7a}{1762}{3914}{让学生看书,问他们看到了什么。(数字I—I0)\\告诉学生他们将两人一组进行活动,一个学生\\说出一个数字,另一个学生指出这个数字。}
\BoxR{e7b}{1762}{3986}{让学生两人一组活动,五轮之后,交换角色。}
\BoxR{e7c}{1762}{4109}{2.听录音并举起手指}
\foreach \cc in {e7a,e7b,e7c} {\ConR{e7}{\cc}}
\BoxR{e7c1}{1907}{4057}{让学生看这两幅图,用汉语描绘图中内容。(学\\生们在做游戏,老师在告诉学生举起几个手指,\\学生们在跟着老师的指示做。)}
\BoxR{e7c2}{1907}{4161}{让学生朗读例文。告诉学生他们将听录音,录\\音中将提示他们应举起几个手指头。放录音。\\再放一遍录音,并让学生听从指令。再放一遍\\录音,以便学生检查答案。让学生两人一组继\\续做游戏,轮流说出让对方举起几个手指。}
\ConR{e7c}{e7c1} \ConR{e7c}{e7c2}
% ===== F : related
\BoxR{f1}{1716}{4250}{★ 小学英语教案详案范文五篇}
\BoxR{f2}{1716}{4305}{★ 关于小学的英语教案万能模板五篇}
\BoxR{f3}{1716}{4360}{★ 小学人教版英语教案设计五篇}
\BoxR{f4}{1716}{4416}{★ 小学英语教案2020范文大全}
\BoxR{f5}{1716}{4471}{★ 小学生英语优秀教案范文大全}
\BoxR{f6}{1716}{4527}{★ 小学教师英语教案范文大全}
\BoxR{f7}{1716}{4582}{★ 小学教师英语教案范文精选}
\BoxR{f8}{1716}{4638}{★ 小学英语教师教学设计模板5篇}
\BoxR{f9}{1716}{4694}{★ 小学教师英语教案优秀范文}
\BoxR{f10}{1716}{4749}{★ 小学英语老师参考英语教案}
\foreach \cc in {f1,f2,f3,f4,f5,f6,f7,f8,f9,f10} {\ConR{F}{\cc}}
% ===== watermarks
\foreach \ii/\wy in {1/527,2/1527,3/2512,4/3524,5/4545,6/5546,7/6480} {\node[wm] (wl\ii) at (645,\wy) {树图 {\wmlat shutu.cn}};}
\foreach \ii/\wy in {1/516,2/1513,3/2515,4/3500,5/4524,6/5520,7/6500} {\node[wm] (wr\ii) at (1926,\wy) {树图 {\wmlat shutu.cn}};}
\end{tikzpicture}
\end{document}
